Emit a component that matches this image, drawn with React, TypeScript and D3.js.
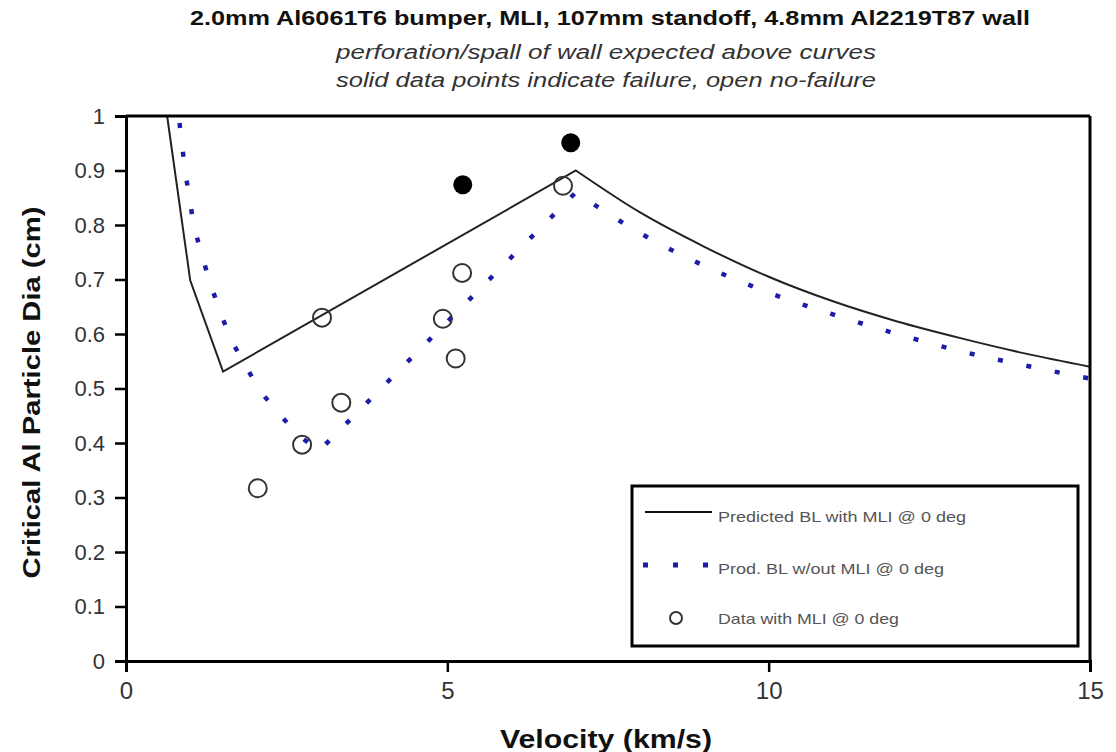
import React, { useEffect, useRef } from 'react';
import * as d3 from 'd3';

// Predicted BL with MLI @ 0 deg
const withMliV = [0.64, 1.0, 1.51, 7.0, 8, 9, 10, 11, 12, 13, 14, 15];
const withMliD = [1.0, 0.698, 0.531, 0.9, 0.823, 0.76, 0.705, 0.66, 0.623, 0.592, 0.564, 0.54];

// Pred. BL w/out MLI @ 0 deg
const noMliV = [0.78, 0.92, 1.06, 1.31, 1.62, 2.08, 2.38, 2.66, 3.0, 7.0, 8, 9, 10, 11, 12, 13, 14, 15];
const noMliD = [1.04, 0.899, 0.795, 0.692, 0.592, 0.496, 0.454, 0.417, 0.385, 0.86, 0.785, 0.725, 0.676, 0.636, 0.6, 0.568, 0.542, 0.518];

// test data, open = no failure
const openV = [2.05, 2.74, 3.05, 3.35, 4.93, 5.13, 5.23, 6.8];
const openD = [0.317, 0.397, 0.63, 0.474, 0.628, 0.555, 0.712, 0.872];
// solid = failure
const failV = [5.24, 6.92];
const failD = [0.874, 0.951];

const xTicks = [0, 5, 10, 15];
const yTicks = [0, 0.1, 0.2, 0.3, 0.4, 0.5, 0.6, 0.7, 0.8, 0.9, 1];

const titleLines = [
  '2.0mm Al6061T6 bumper, MLI, 107mm standoff, 4.8mm Al2219T87 wall',
  'perforation/spall of wall expected above curves',
  'solid data points indicate failure, open no-failure',
];

const legendLabels = ['Predicted BL with MLI @ 0 deg', 'Prod. BL w/out MLI @ 0 deg', 'Data with MLI @ 0 deg'];

const FONT = '"Liberation Sans Narrow", "Arial Narrow", "Liberation Sans", Arial, sans-serif';

export default function App() {
  const ref = useRef<SVGSVGElement>(null);

  useEffect(() => {
    const width = 1116, height = 752;
    const left = 126, right = 1090, top = 116, bottom = 661;

    const svg = d3.select(ref.current).attr('width', width).attr('height', height);
    svg.selectAll('*').remove();

    const x = d3.scaleLinear().domain([0, 15]).range([left, right]);
    const y = d3.scaleLinear().domain([0, 1]).range([bottom, top]);

    svg.append('defs').append('clipPath').attr('id', 'plot-clip')
      .append('rect').attr('x', left).attr('y', top - 4).attr('width', right - left).attr('height', bottom - top + 4);

    // titles
    svg.append('text').attr('x', 610).attr('y', 25).attr('text-anchor', 'middle')
      .style('font-family', FONT).style('font-size', '20px').style('font-weight', 'bold').attr('fill', '#111')
      .attr('textLength', 840).attr('lengthAdjust', 'spacingAndGlyphs').text(titleLines[0]);
    svg.append('text').attr('x', 606).attr('y', 59).attr('text-anchor', 'middle')
      .style('font-family', FONT).style('font-size', '20px').style('font-style', 'italic').attr('fill', '#333')
      .attr('textLength', 540).attr('lengthAdjust', 'spacingAndGlyphs').text(titleLines[1]);
    svg.append('text').attr('x', 606).attr('y', 87).attr('text-anchor', 'middle')
      .style('font-family', FONT).style('font-size', '20px').style('font-style', 'italic').attr('fill', '#333')
      .attr('textLength', 540).attr('lengthAdjust', 'spacingAndGlyphs').text(titleLines[2]);

    const plot = svg.append('g').attr('clip-path', 'url(#plot-clip)');

    const straight = d3.line<[number, number]>().x(d => x(d[0])).y(d => y(d[1]));
    const smooth = d3.line<[number, number]>().x(d => x(d[0])).y(d => y(d[1])).curve(d3.curveMonotoneX);

    // straight up to the peak, smooth decay after it
    const drawSeries = (vs: number[], ds: number[], peakAt: number, style: (p: any) => void) => {
      const pts = d3.zip(vs, ds) as [number, number][];
      const a = pts.slice(0, peakAt + 1);
      const b = pts.slice(peakAt);
      const d = straight(a)! + smooth(b)!.replace(/^M[^CL]*/, '');
      style(plot.append('path').attr('d', d).attr('fill', 'none'));
    };

    drawSeries(noMliV, noMliD, noMliV.indexOf(7.0), p =>
      p.attr('stroke', '#1c1ca8').attr('stroke-width', 4.5).attr('stroke-dasharray', '5,24'));
    drawSeries(withMliV, withMliD, withMliV.indexOf(7.0), p =>
      p.attr('stroke', '#222').attr('stroke-width', 2));

    plot.selectAll('.open').data(d3.zip(openV, openD)).join('circle').attr('class', 'open')
      .attr('cx', d => x(d[0])).attr('cy', d => y(d[1])).attr('r', 9)
      .attr('fill', 'none').attr('stroke', '#333').attr('stroke-width', 2);

    plot.selectAll('.fail').data(d3.zip(failV, failD)).join('circle').attr('class', 'fail')
      .attr('cx', d => x(d[0])).attr('cy', d => y(d[1])).attr('r', 9.5).attr('fill', '#000');

    // frame
    svg.append('line').attr('x1', left).attr('x2', right).attr('y1', top).attr('y2', top).attr('stroke', '#000').attr('stroke-width', 3);
    svg.append('line').attr('x1', right).attr('x2', right).attr('y1', top).attr('y2', bottom).attr('stroke', '#000').attr('stroke-width', 3);

    // axes
    const yAxis = svg.append('g').attr('transform', `translate(${left},0)`)
      .call(d3.axisLeft(y).tickValues(yTicks).tickSize(11).tickPadding(10).tickFormat(d => d3.format('')(+(+d).toFixed(1))));
    yAxis.select('.domain').attr('stroke-width', 3);
    yAxis.selectAll('.tick line').attr('stroke-width', 2.5);
    yAxis.selectAll('text').style('font-family', FONT).style('font-size', '22px').attr('fill', '#333');

    const xAxis = svg.append('g').attr('transform', `translate(0,${bottom})`)
      .call(d3.axisBottom(x).tickValues(xTicks).tickSize(11).tickPadding(10));
    xAxis.select('.domain').attr('stroke-width', 3);
    xAxis.selectAll('.tick line').attr('stroke-width', 2.5);
    xAxis.selectAll('text').style('font-family', FONT).style('font-size', '24px').attr('fill', '#333');

    // axis titles
    svg.append('text').attr('transform', `translate(40,${(top + bottom) / 2 + 4}) rotate(-90)`).attr('text-anchor', 'middle')
      .style('font-family', FONT).style('font-size', '24px').style('font-weight', 'bold').attr('fill', '#111')
      .attr('textLength', 372).attr('lengthAdjust', 'spacingAndGlyphs').text('Critical Al Particle Dia (cm)');
    svg.append('text').attr('x', 606).attr('y', 748).attr('text-anchor', 'middle')
      .style('font-family', FONT).style('font-size', '25px').style('font-weight', 'bold').attr('fill', '#111')
      .attr('textLength', 212).attr('lengthAdjust', 'spacingAndGlyphs').text('Velocity (km/s)');

    // legend
    const lg = svg.append('g');
    lg.append('rect').attr('x', 632).attr('y', 486).attr('width', 446).attr('height', 160)
      .attr('fill', '#fff').attr('stroke', '#000').attr('stroke-width', 3);
    lg.append('line').attr('x1', 645).attr('x2', 712).attr('y1', 512).attr('y2', 512).attr('stroke', '#111').attr('stroke-width', 2);
    lg.append('line').attr('x1', 643).attr('x2', 712).attr('y1', 565).attr('y2', 565).attr('stroke', '#1c1ca8').attr('stroke-width', 5)
      .attr('stroke-dasharray', '5,25');
    lg.append('circle').attr('cx', 676).attr('cy', 618).attr('r', 6).attr('fill', 'none').attr('stroke', '#333').attr('stroke-width', 2);
    const lw = [248, 226, 181];
    [517, 569, 619].forEach((ty, i) => {
      lg.append('text').attr('x', 718).attr('y', ty + 5).style('font-family', FONT).style('font-size', '15px').attr('fill', '#555')
        .attr('textLength', lw[i]).attr('lengthAdjust', 'spacingAndGlyphs').text(legendLabels[i]);
    });
  }, []);

  return (
    <svg ref={ref} style={{ position: 'absolute', left: 0, top: 0, background: '#fff' }} />
  );
}
